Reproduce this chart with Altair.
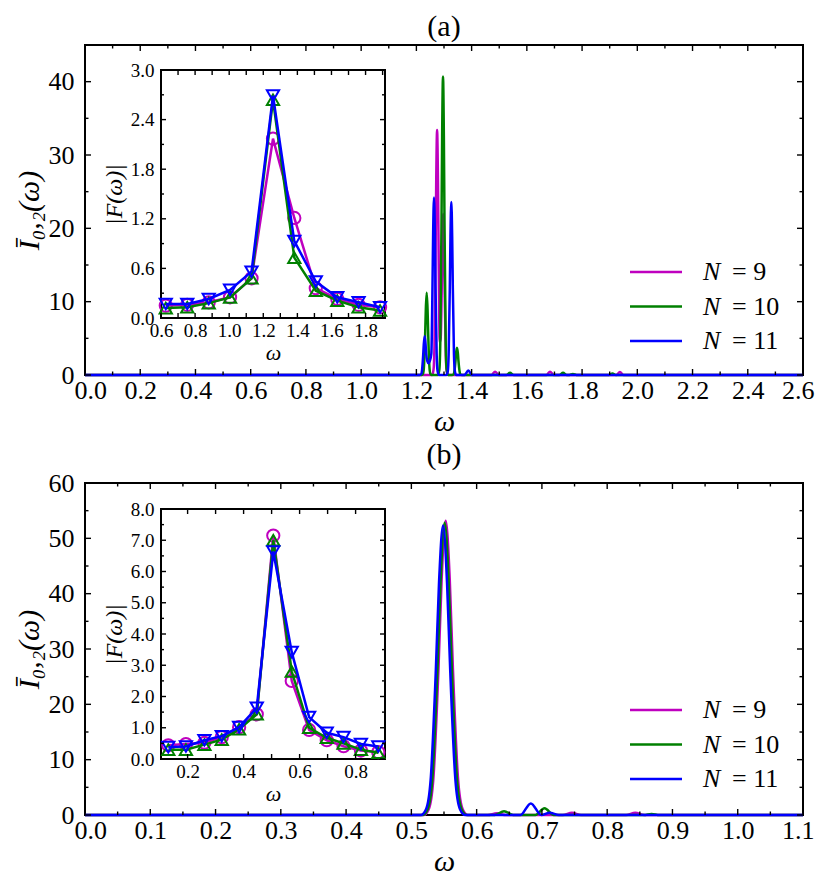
import altair as alt
import pandas as pd

SERIES = ["N = 9", "N = 10", "N = 11"]
SERIES_REST = ["= 9", "= 10", "= 11"]
COLORS = ["#bf00bf", "#008000", "#0000ff"]
SHAPES = ["circle", "triangle-up", "triangle-down"]
FONT = "Liberation Serif"

# ---------------- panel (a): main spectra ----------------
A9_W = [0.0, 1.257, 1.262, 1.2655, 1.2695, 1.2719, 1.275, 1.2781, 1.2805, 1.2846, 1.288, 1.2915, 1.2939,
        1.297, 1.3001, 1.3025, 1.3066, 1.310, 1.315, 1.472, 1.485, 1.498, 1.671, 1.684, 1.697,
        1.924, 1.937, 1.950, 2.6]
A9_V = [0, 0, 0.7, 4.0, 16.7, 26.7, 33.4, 26.7, 16.7, 4.5, 5.0, 11.0, 17.6,
        22.0, 17.6, 11.0, 2.6, 0.5, 0, 0, 0.45, 0, 0, 0.45, 0,
        0, 0.4, 0, 0]
A10_W = [0.0, 1.2193, 1.2243, 1.2277, 1.2318, 1.2342, 1.2373, 1.2404, 1.2428, 1.2469, 1.2503, 1.2553,
         1.2784, 1.2834, 1.2868, 1.2909, 1.2933, 1.2964, 1.2995, 1.3019, 1.306, 1.3094, 1.3144,
         1.329, 1.334, 1.3374, 1.3415, 1.3439, 1.347, 1.3501, 1.3525, 1.3566, 1.36, 1.365,
         1.526, 1.539, 1.552, 1.718, 1.731, 1.744, 1.754, 1.767, 1.780, 1.897, 1.910, 1.923, 2.6]
A10_V = [0, 0, 0.22, 1.3, 5.6, 9.0, 11.2, 9.0, 5.6, 1.3, 0.22, 0,
         0, 0.8, 4.9, 20.4, 32.6, 40.7, 32.6, 20.4, 4.9, 0.8, 0,
         0, 0.07, 0.44, 1.85, 3.0, 3.7, 3.0, 1.85, 0.44, 0.07, 0,
         0, 0.3, 0, 0, 0.3, 0, 0, 0.15, 0, 0, 0.2, 0, 0]
A11_W = [0.0, 1.212, 1.217, 1.2204, 1.2245, 1.2269, 1.230, 1.2331, 1.2355, 1.2396, 1.244, 1.2485,
         1.2542, 1.2583, 1.2607, 1.2638, 1.2669, 1.2693, 1.2734, 1.2768, 1.2818,
         1.3085, 1.3135, 1.3169, 1.321, 1.3234, 1.3265, 1.3296, 1.332, 1.3361, 1.3395, 1.3445,
         1.374, 1.388, 1.402, 2.6]
A11_V = [0, 0, 0.1, 0.64, 2.65, 4.24, 5.3, 4.24, 2.9, 1.9, 1.6, 1.9,
         2.9, 12.1, 19.4, 24.2, 19.4, 12.1, 2.9, 0.5, 0,
         0, 0.47, 2.8, 11.8, 18.9, 23.6, 18.9, 11.8, 2.8, 0.47, 0,
         0, 0.6, 0, 0]

# ---------------- panel (a): inset |F(w)| ----------------
AI_W = [0.628, 0.754, 0.880, 1.005, 1.131, 1.257, 1.382, 1.508, 1.634, 1.759, 1.885]
AI_9 = [0.15, 0.16, 0.19, 0.25, 0.48, 2.17, 1.21, 0.36, 0.23, 0.16, 0.13]
AI_10 = [0.12, 0.13, 0.18, 0.25, 0.48, 2.64, 0.73, 0.33, 0.21, 0.13, 0.09]
AI_11 = [0.17, 0.17, 0.23, 0.34, 0.56, 2.69, 0.93, 0.44, 0.25, 0.19, 0.13]

# ---------------- panel (b): main spectra ----------------
B9_W = [0.0, 0.5186, 0.5266, 0.5336, 0.5416, 0.5464, 0.5526, 0.5588, 0.5636, 0.5716, 0.5786, 0.5866,
        0.617, 0.631, 0.645, 0.732, 0.746, 0.760, 0.829, 0.843, 0.857, 1.1]
B9_V = [0, 0, 1.06, 6.4, 26.6, 42.6, 53.2, 42.6, 26.6, 6.4, 1.06, 0,
        0, 0.3, 0, 0, 0.4, 0, 0, 0.4, 0, 0]
B10_W = [0.0, 0.517, 0.525, 0.532, 0.540, 0.5448, 0.551, 0.5572, 0.562, 0.570, 0.577, 0.585,
         0.628, 0.642, 0.656, 0.690, 0.704, 0.718, 0.856, 0.868, 0.880, 1.1]
B10_V = [0, 0, 1.06, 6.3, 26.4, 42.2, 52.8, 42.2, 26.4, 6.3, 1.06, 0,
         0, 0.7, 0, 0, 1.2, 0, 0, 0.2, 0, 0]
B11_W = [0.0, 0.5145, 0.5225, 0.5295, 0.5375, 0.5423, 0.5485, 0.5547, 0.5595, 0.5675, 0.5745, 0.5825,
         0.667, 0.683, 0.699, 0.712, 0.726, 1.1]
B11_V = [0, 0, 1.05, 6.3, 26.2, 41.8, 52.3, 41.8, 26.2, 6.3, 1.05, 0,
         0, 2.1, 0, 0.4, 0, 0]

# ---------------- panel (b): inset |F(w)| ----------------
BI_W = [0.131, 0.194, 0.260, 0.322, 0.384, 0.447, 0.506, 0.572, 0.634, 0.697, 0.757, 0.819, 0.881]
BI_9 = [0.44, 0.48, 0.52, 0.70, 1.02, 1.43, 7.15, 2.5, 0.93, 0.6, 0.41, 0.27, 0.22]
BI_10 = [0.30, 0.30, 0.46, 0.62, 0.95, 1.43, 7.0, 2.8, 1.0, 0.68, 0.5, 0.3, 0.2]
BI_11 = [0.38, 0.40, 0.60, 0.73, 1.02, 1.64, 6.64, 3.42, 1.34, 0.84, 0.70, 0.48, 0.40]

# ---------------- axes: domains and ticks ----------------
A_XDOM = [0.0, 2.6]
A_YDOM = [0, 45]
A_X_MAJOR = [0.0, 0.2, 0.4, 0.6, 0.8, 1.0, 1.2, 1.4, 1.6, 1.8, 2.0, 2.2, 2.4, 2.6]
A_X_MINOR = [0.1, 0.3, 0.5, 0.7, 0.9, 1.1, 1.3, 1.5, 1.7, 1.9, 2.1, 2.3, 2.5]
A_Y_MAJOR = [0, 10, 20, 30, 40]
A_Y_MINOR = [5, 15, 25, 35]
AI_XDOM = [0.6, 1.914]
AI_YDOM = [0.0, 3.0]
AI_X_LABELS = [0.6, 0.8, 1.0, 1.2, 1.4, 1.6, 1.8]
AI_X_TICKS = [0.7, 0.9, 1.1, 1.3, 1.5, 1.7, 1.9]
AI_Y_LABELS = [0.0, 0.6, 1.2, 1.8, 2.4, 3.0]
AI_Y_TICKS = [0.3, 0.9, 1.5, 2.1, 2.7]

B_XDOM = [0.0, 1.1]
B_YDOM = [0, 60]
B_X_MAJOR = [0.0, 0.1, 0.2, 0.3, 0.4, 0.5, 0.6, 0.7, 0.8, 0.9, 1.0, 1.1]
B_X_MINOR = [0.05, 0.15, 0.25, 0.35, 0.45, 0.55, 0.65, 0.75, 0.85, 0.95, 1.05]
B_Y_MAJOR = [0, 10, 20, 30, 40, 50, 60]
B_Y_MINOR = [5, 15, 25, 35, 45, 55]
BI_XDOM = [0.105, 0.905]
BI_YDOM = [0.0, 8.0]
BI_X_LABELS = [0.2, 0.4, 0.6, 0.8]
BI_X_TICKS = [0.3, 0.5, 0.7]
BI_Y_LABELS = [0.0, 1.0, 2.0, 3.0, 4.0, 5.0, 6.0, 7.0, 8.0]
BI_Y_TICKS = [0.5, 1.5, 2.5, 3.5, 4.5, 5.5, 6.5, 7.5]


def long_df(ws_list, vs_list):
    rows = []
    for name, ws, vs in zip(SERIES, ws_list, vs_list):
        for w, v in zip(ws, vs):
            rows.append({"series": name, "w": w, "v": v})
    return pd.DataFrame(rows)


CSCALE = alt.Scale(domain=SERIES, range=COLORS)


def tick_layers(vals, scale, ch, L, x0, x1, y0, y1, sw=1.4):
    df = pd.DataFrame({"t": vals})
    base = alt.Chart(df).mark_rule(color="black", strokeWidth=sw)
    if ch == "x":
        f = alt.X("t:Q", scale=scale, axis=None)
        return [base.encode(x=f, y=alt.value(y1), y2=alt.value(y1 - L)),
                base.encode(x=f, y=alt.value(y0), y2=alt.value(y0 + L))]
    f = alt.Y("t:Q", scale=scale, axis=None)
    return [base.encode(y=f, x=alt.value(x0), x2=alt.value(x0 + L)),
            base.encode(y=f, x=alt.value(x1), x2=alt.value(x1 - L))]


def ax(**kw):
    common = dict(labelFont=FONT, labelColor="black", ticks=False, domain=False, grid=False,
                  labelFlush=False, labelOverlap=False, titleFont=FONT, titleFontStyle="italic",
                  titleFontWeight="normal", titleColor="black")
    common.update(kw)
    return alt.Axis(**common)


def panel(title, title_offset, main_df, inset_df, W, H, xdom, ydom, xmaj, xmin, ymaj, ymin,
          ixdom, iydom, ixlab, ixtick, iylab, iytick, ipx, ipy):
    mx = alt.Scale(domain=xdom, nice=False, zero=False)
    my = alt.Scale(domain=ydom, nice=False, zero=False)
    ix = alt.Scale(domain=ixdom, range=ipx, nice=False, zero=False)
    iy = alt.Scale(domain=iydom, range=[ipy[1], ipy[0]], nice=False, zero=False)

    layers = []
    # ---- main axes carrier (invisible) ----
    axis_df = pd.DataFrame({"w": [xdom[0]], "v": [ydom[0]]})
    layers.append(
        alt.Chart(axis_df).mark_point(opacity=0).encode(
            x=alt.X("w:Q", scale=mx, axis=ax(orient="bottom", values=xmaj, format=".1f", labelFontSize=26,
                                             labelPadding=2, labelFlush=True, labelFlushOffset=11,
                                             title="ω", titleFontSize=30, titlePadding=3)),
            y=alt.Y("v:Q", scale=my, axis=ax(orient="left", values=ymaj, format="d", labelFontSize=26,
                                             labelPadding=11, title="Ī₀,₂(ω)", titleFontSize=30,
                                             titlePadding=4)))
    )
    # ---- main spectra ----
    for s in SERIES:
        layers.append(
            alt.Chart(main_df).transform_filter(alt.datum.series == s)
            .mark_line(strokeWidth=2.5, interpolate="monotone")
            .encode(x=alt.X("w:Q", scale=mx, axis=None),
                    y=alt.Y("v:Q", scale=my, axis=None),
                    color=alt.Color("series:N", scale=CSCALE, legend=None))
        )
    layers += tick_layers(xmaj, mx, "x", 6, 0, W, 0, H)
    layers += tick_layers(xmin, mx, "x", 3.5, 0, W, 0, H)
    layers += tick_layers(ymaj, my, "y", 6, 0, W, 0, H)
    layers += tick_layers(ymin, my, "y", 3.5, 0, W, 0, H)

    # ---- inset ----
    frame_df = pd.DataFrame({"x0": [ixdom[0]], "x1": [ixdom[1]], "y0": [iydom[0]], "y1": [iydom[1]]})
    layers.append(
        alt.Chart(frame_df).mark_rect(fill="white", stroke="black", strokeWidth=2).encode(
            x=alt.X("x0:Q", scale=ix,
                    axis=ax(orient="bottom", offset=-(H - ipy[1]), values=ixlab, format=".1f",
                            labelFontSize=19, labelPadding=3, title="ω", titleFontSize=22, titlePadding=2)),
            x2="x1:Q",
            y=alt.Y("y0:Q", scale=iy,
                    axis=ax(orient="left", offset=-ipx[0], values=iylab, format=".1f", labelFontSize=19,
                            labelPadding=7, title="|F(ω)|", titleFontSize=24, titlePadding=4)),
            y2="y1:Q")
    )
    for i, s in enumerate(SERIES):
        base = alt.Chart(inset_df).transform_filter(alt.datum.series == s).encode(
            x=alt.X("w:Q", scale=ix, axis=None),
            y=alt.Y("v:Q", scale=iy, axis=None),
            color=alt.Color("series:N", scale=CSCALE, legend=None))
        layers.append(base.mark_line(strokeWidth=2.5))
        layers.append(base.mark_point(shape=SHAPES[i], filled=False, size=150, strokeWidth=2, opacity=1))
    layers += tick_layers(ixlab, ix, "x", 5, ipx[0], ipx[1], ipy[0], ipy[1])
    layers += tick_layers(ixtick, ix, "x", 5, ipx[0], ipx[1], ipy[0], ipy[1])
    layers += tick_layers(iylab, iy, "y", 5, ipx[0], ipx[1], ipy[0], ipy[1])
    layers += tick_layers(iytick, iy, "y", 3, ipx[0], ipx[1], ipy[0], ipy[1])

    # ---- legend ----
    leg_df = pd.DataFrame({"series": SERIES, "rest": SERIES_REST, "sym": ["N", "N", "N"]})
    lscale = alt.Scale(type="point", domain=SERIES, range=[227, 296], padding=0)
    lbase = alt.Chart(leg_df)
    layers += [
        lbase.mark_rule(strokeWidth=2.5).encode(
            x=alt.value(545), x2=alt.value(597), y=alt.Y("series:N", scale=lscale, axis=None),
            color=alt.Color("series:N", scale=CSCALE, legend=None)),
        lbase.mark_text(align="left", baseline="middle", font=FONT, fontSize=26, fontStyle="italic",
                        color="black").encode(x=alt.value(618), y=alt.Y("series:N", scale=lscale, axis=None),
                                              text="sym:N"),
        lbase.mark_text(align="left", baseline="middle", font=FONT, fontSize=26,
                        color="black").encode(x=alt.value(647), y=alt.Y("series:N", scale=lscale, axis=None),
                                              text="rest:N"),
    ]

    return alt.layer(*layers).resolve_scale(x="independent", y="independent").properties(
        width=W, height=H,
        title=alt.Title(title, fontSize=30, font=FONT, fontWeight="normal", color="black",
                        offset=title_offset))


mainA = long_df([A9_W, A10_W, A11_W], [A9_V, A10_V, A11_V])
insetA = long_df([AI_W, AI_W, AI_W], [AI_9, AI_10, AI_11])
mainB = long_df([B9_W, B10_W, B11_W], [B9_V, B10_V, B11_V])
insetB = long_df([BI_W, BI_W, BI_W], [BI_9, BI_10, BI_11])

pA = panel("(a)", 2, mainA, insetA, 718, 330, A_XDOM, A_YDOM, A_X_MAJOR, A_X_MINOR, A_Y_MAJOR, A_Y_MINOR,
           AI_XDOM, AI_YDOM, AI_X_LABELS, AI_X_TICKS, AI_Y_LABELS, AI_Y_TICKS, [76, 300], [25, 273])
pB = panel("(b)", 0, mainB, insetB, 718, 332, B_XDOM, B_YDOM, B_X_MAJOR, B_X_MINOR, B_Y_MAJOR, B_Y_MINOR,
           BI_XDOM, BI_YDOM, BI_X_LABELS, BI_X_TICKS, BI_Y_LABELS, BI_Y_TICKS, [76, 300], [26, 276])

chart = alt.vconcat(pA, pB, spacing=2).properties(
    padding={"left": 5, "top": 3, "right": 0, "bottom": 0}, background="white"
).configure_view(stroke="black", strokeWidth=2)

chart.save("out.html", embed_options={"renderer": "svg", "actions": False})
